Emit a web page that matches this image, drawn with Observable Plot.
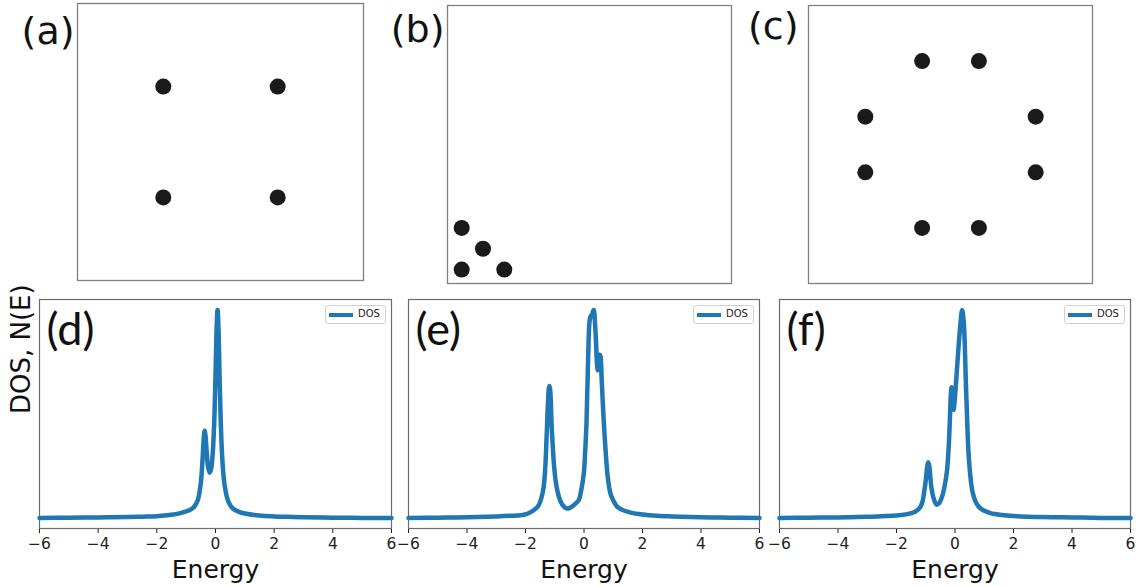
<!DOCTYPE html>
<html>
<head>
<meta charset="utf-8">
<script src="https://cdn.jsdelivr.net/npm/d3@7"></script>
<script src="https://cdn.jsdelivr.net/npm/@observablehq/plot@0.6"></script>
<style>
  html, body { margin: 0; padding: 0; background: #fff; }
  #wrap { position: relative; width: 1139px; height: 586px; overflow: hidden; background: #fff; }
  #wrap svg { position: absolute; overflow: visible; }
  .legend { position: absolute; width: 59px; height: 17px; border: 1px solid #d0d0d0; border-radius: 3px; background: #fff; }
  .legend .swatch { position: absolute; left: 3px; top: 6.5px; width: 24px; height: 4px; background: #1f77b4; }
  .legend .lab { position: absolute; left: 32px; top: 2px; font: 10px "DejaVu Sans", sans-serif; color: #222; line-height: 12px; }
</style>
</head>
<body>
<div id="wrap"></div>
<script>
// ---------------- data ----------------
const topLabels = ["(a)", "(b)", "(c)"];
const aX = [0.3, 0.7, 0.3, 0.7];
const aY = [0.7, 0.7, 0.3, 0.3];
const bX = [0.05, 0.125, 0.05, 0.2];
const bY = [0.2, 0.125, 0.05, 0.05];
const cX = [0.4, 0.6, 0.2, 0.8, 0.2, 0.8, 0.4, 0.6];
const cY = [0.8, 0.8, 0.6, 0.6, 0.4, 0.4, 0.2, 0.2];

const bottomLabels = ["(d)", "(e)", "(f)"];
const legendLabel = "DOS";
const xTitle = "Energy";
const yTitle = "DOS, N(E)";
const energyTicks = [-6, -4, -2, 0, 2, 4, 6];

const energyD = [-6, -5, -4, -3, -2.5, -2, -1.5, -1.2, -1.0, -0.8, -0.7, -0.6, -0.5, -0.45, -0.4, -0.37, -0.34, -0.3, -0.25, -0.2, -0.15, -0.1, -0.05, 0, 0.04, 0.07, 0.1, 0.15, 0.2, 0.25, 0.3, 0.4, 0.5, 0.6, 0.8, 1.0, 1.5, 2, 2.5, 3, 4, 5, 6];
const dosD    = [0, 0.002, 0.003, 0.005, 0.007, 0.009, 0.016, 0.024, 0.032, 0.045, 0.06, 0.088, 0.17, 0.262, 0.382, 0.42, 0.395, 0.318, 0.243, 0.218, 0.236, 0.3, 0.436, 0.683, 0.92, 1.0, 0.918, 0.615, 0.38, 0.245, 0.17, 0.095, 0.062, 0.045, 0.03, 0.022, 0.012, 0.008, 0.006, 0.004, 0.002, 0.001, 0];

const energyE = [-6, -5, -4, -3, -2.5, -2.17, -2, -1.83, -1.7, -1.6, -1.545, -1.47, -1.395, -1.35, -1.316, -1.29, -1.26, -1.23, -1.2, -1.18, -1.16, -1.13, -1.11, -1.07, -1.03, -0.97, -0.916, -0.83, -0.745, -0.65, -0.575, -0.5, -0.4, -0.3, -0.177, -0.1, -0.006, 0.04, 0.085, 0.143, 0.2, 0.25, 0.28, 0.31, 0.34, 0.37, 0.41, 0.44, 0.47, 0.5, 0.53, 0.56, 0.6, 0.64, 0.68, 0.74, 0.81, 0.9, 1.0, 1.13, 1.3, 1.6, 2.0, 2.5, 3, 4, 5, 6];
const dosE    = [0, 0.002, 0.004, 0.008, 0.011, 0.014, 0.018, 0.028, 0.04, 0.052, 0.063, 0.09, 0.135, 0.19, 0.263, 0.35, 0.455, 0.56, 0.625, 0.635, 0.62, 0.55, 0.455, 0.35, 0.263, 0.18, 0.135, 0.09, 0.065, 0.05, 0.046, 0.048, 0.056, 0.068, 0.087, 0.13, 0.215, 0.32, 0.455, 0.776, 0.955, 0.975, 0.975, 0.995, 1.0, 0.95, 0.85, 0.75, 0.71, 0.77, 0.785, 0.78, 0.68, 0.56, 0.455, 0.32, 0.2, 0.12, 0.085, 0.055, 0.04, 0.026, 0.017, 0.011, 0.008, 0.004, 0.002, 0];

const energyF = [-6, -5, -4, -3, -2.5, -2, -1.6, -1.35, -1.2, -1.12, -1.05, -1.0, -0.96, -0.92, -0.88, -0.84, -0.8, -0.72, -0.63, -0.55, -0.45, -0.36, -0.28, -0.22, -0.18, -0.14, -0.12, -0.09, -0.05, -0.02, 0.02, 0.1, 0.19, 0.245, 0.3, 0.38, 0.47, 0.55, 0.6, 0.7, 0.815, 1.0, 1.21, 1.6, 2, 3, 4, 5, 6];
const dosF    = [0, 0.002, 0.003, 0.006, 0.009, 0.012, 0.02, 0.032, 0.05, 0.075, 0.13, 0.18, 0.235, 0.268, 0.25, 0.19, 0.14, 0.09, 0.065, 0.07, 0.1, 0.15, 0.22, 0.33, 0.455, 0.6, 0.628, 0.57, 0.52, 0.55, 0.62, 0.78, 0.94, 1.0, 0.94, 0.615, 0.295, 0.17, 0.125, 0.08, 0.054, 0.035, 0.024, 0.015, 0.01, 0.005, 0.003, 0.001, 0];

// ---------------- layout ----------------
const wrap = document.getElementById("wrap");
const fmtTick = d => (d < 0 ? "\u2212" + (-d) : String(d));

const topFrames = [
  {l: 77, t: 3, w: 286, h: 277, dx: -3, dy: 14},
  {l: 447, t: 5, w: 284, h: 278, dx: -3, dy: 10},
  {l: 808, t: 5, w: 284, h: 278, dx: -10, dy: 7}
];

function makeTop(i, xs, ys) {
  const f = topFrames[i];
  const m = 20;
  const pts = xs.map((x, k) => ({x, y: ys[k]}));
  const svg = Plot.plot({
    width: f.w + 2 * m,
    height: f.h + 2 * m,
    margin: m,
    x: {domain: [0, 1], axis: null},
    y: {domain: [0, 1], axis: null},
    style: {background: "transparent", fontFamily: "DejaVu Sans, sans-serif", overflow: "visible"},
    marks: [
      Plot.frame({stroke: "#808080", strokeWidth: 1.3}),
      Plot.dot(pts, {x: "x", y: "y", r: 8, fill: "#1a1a1a", stroke: null}),
      Plot.text([topLabels[i]], {text: d => d, frameAnchor: "top-left", textAnchor: "end", lineAnchor: "top",
        dx: f.dx, dy: f.dy, fontSize: 38, fill: "#111"})
    ]
  });
  svg.style.left = (f.l - m) + "px";
  svg.style.top = (f.t - m) + "px";
  wrap.appendChild(svg);
}

const botFrames = [{l: 39, r: 391}, {l: 408, r: 759}, {l: 779, r: 1130}];
const botTop = 299, botBottom = 528;

function makeBottom(i, E, N) {
  const f = botFrames[i];
  const ml = 45, mr = 15, mt = 9, mb = 58;
  const pts = E.map((e, k) => ({e, n: N[k]}));
  const nmin = d3.min(N), nmax = d3.max(N), pad = 0.05 * (nmax - nmin);
  const marks = [
    Plot.frame({stroke: "#6a6a6a", strokeWidth: 1.2}),
    Plot.line(pts, {x: "e", y: "n", stroke: "#1f77b4", strokeWidth: 4.5, curve: "catmull-rom", strokeLinejoin: "round"}),
    Plot.text([bottomLabels[i]], {text: d => d, frameAnchor: "top-left", textAnchor: "start", lineAnchor: "top",
      dx: 7, dy: 14, fontSize: 45, fontFamily: "Lato, sans-serif", fill: "#111"}),
    Plot.text([xTitle], {text: d => d, frameAnchor: "bottom", lineAnchor: "top", dy: 32, fontSize: 25, fill: "#111"})
  ];
  if (i === 0) {
    marks.push(Plot.text([yTitle], {text: d => d, frameAnchor: "left", rotate: -90, dx: -18, fontSize: 26, fill: "#111"}));
  }
  const svg = Plot.plot({
    width: (f.r - f.l) + ml + mr,
    height: (botBottom - botTop) + mt + mb,
    marginLeft: ml, marginRight: mr, marginTop: mt, marginBottom: mb,
    x: {domain: [-6, 6], ticks: energyTicks, tickFormat: fmtTick, tickSize: 5, tickPadding: 4, label: null},
    y: {domain: [nmin - pad, nmax + pad], axis: null},
    style: {background: "transparent", fontFamily: "DejaVu Sans, sans-serif", fontSize: "15.5px", color: "#222", overflow: "visible"},
    marks
  });
  svg.style.left = (f.l - ml) + "px";
  svg.style.top = (botTop - mt) + "px";
  wrap.appendChild(svg);

  // legend box (matplotlib-style, upper right)
  const lg = document.createElement("div");
  lg.className = "legend";
  lg.style.left = (f.r - 5 - 61) + "px";
  lg.style.top = (botTop + 6) + "px";
  const sw = document.createElement("div"); sw.className = "swatch";
  const lb = document.createElement("div"); lb.className = "lab"; lb.textContent = legendLabel;
  lg.appendChild(sw); lg.appendChild(lb);
  wrap.appendChild(lg);
}

makeTop(0, aX, aY);
makeTop(1, bX, bY);
makeTop(2, cX, cY);
makeBottom(0, energyD, dosD);
makeBottom(1, energyE, dosE);
makeBottom(2, energyF, dosF);
</script>
</body>
</html>
